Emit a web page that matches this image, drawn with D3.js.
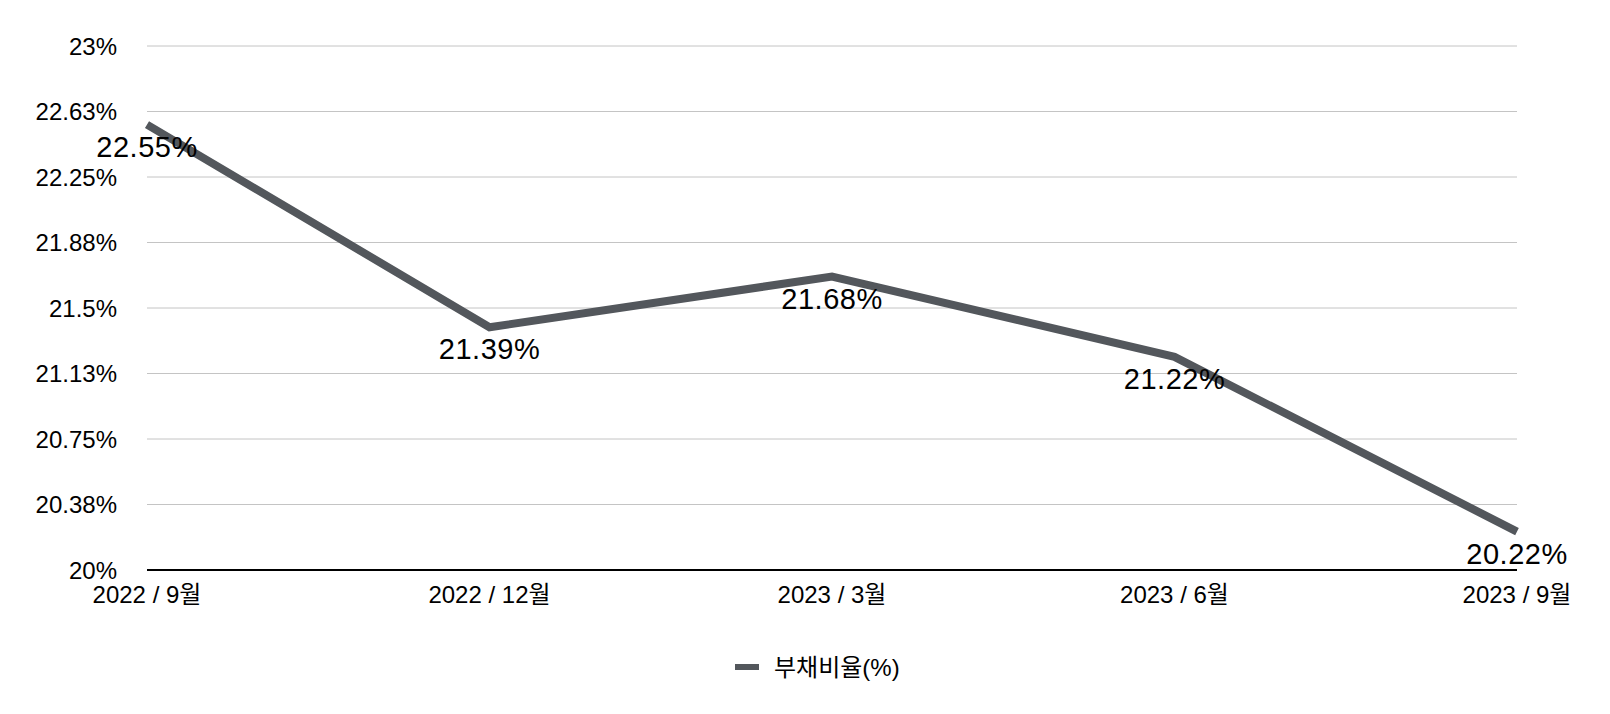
<!DOCTYPE html>
<html>
<head>
<meta charset="utf-8">
<script src="https://cdn.jsdelivr.net/npm/d3@7"></script>
<style>
  html, body { margin: 0; padding: 0; background: #fff; }
  svg { display: block; font-family: "Liberation Sans", Arial, "Noto Sans CJK KR", sans-serif; }
</style>
</head>
<body>
<svg id="chart" width="1610" height="714"></svg>
<script>
const categories = ["2022 / 9월", "2022 / 12월", "2023 / 3월", "2023 / 6월", "2023 / 9월"];
const values = [22.55, 21.39, 21.68, 21.22, 20.22];
const seriesName = "부채비율(%)";
const yTicks = [20, 20.375, 20.75, 21.125, 21.5, 21.875, 22.25, 22.625, 23];
const yTickLabels = ["20%", "20.38%", "20.75%", "21.13%", "21.5%", "21.88%", "22.25%", "22.63%", "23%"];

(function () {
const svg = d3.select("#chart");
const mLeft = 147, mRight = 1517, mTop = 46, mBottom = 570;
const lineColor = "#53575c";

const x = d3.scalePoint().domain(categories).range([mLeft, mRight]).padding(0);
const y = d3.scaleLinear().domain([20, 23]).range([mBottom, mTop]);

// grid lines
svg.append("g").selectAll("line").data(yTicks.slice(1)).join("line")
  .attr("x1", mLeft).attr("x2", mRight)
  .attr("y1", d => y(d)).attr("y2", d => y(d))
  .attr("stroke", "#c4c4c4").attr("stroke-width", 1);

// y labels
svg.append("g").selectAll("text").data(yTicks).join("text")
  .attr("x", 117).attr("y", d => y(d)).attr("dy", "0.36em")
  .attr("text-anchor", "end").attr("font-size", 24).attr("fill", "#000")
  .text((d, i) => yTickLabels[i]);

// baseline
svg.append("line").attr("x1", mLeft).attr("x2", mRight)
  .attr("y1", y(20)).attr("y2", y(20))
  .attr("stroke", "#000").attr("stroke-width", 2);

// x labels
svg.append("g").selectAll("text").data(categories).join("text")
  .attr("x", d => x(d)).attr("y", 603)
  .attr("text-anchor", "middle").attr("font-size", 24).attr("fill", "#000")
  .text(d => d);

// line
const line = d3.line().x((d, i) => x(categories[i])).y(d => y(d));
svg.append("path").datum(values)
  .attr("d", line).attr("fill", "none")
  .attr("stroke", lineColor).attr("stroke-width", 8)
  .attr("stroke-linejoin", "miter");

// data labels
svg.append("g").selectAll("text").data(values).join("text")
  .attr("x", (d, i) => x(categories[i])).attr("y", d => y(d) + 32)
  .attr("text-anchor", "middle").attr("font-size", 29).attr("letter-spacing", 0.5).attr("fill", "#000")
  .text(d => d.toFixed(2) + "%");

// legend
const lg = svg.append("g");
lg.append("line").attr("x1", 735).attr("x2", 759).attr("y1", 667).attr("y2", 667)
  .attr("stroke", lineColor).attr("stroke-width", 6);
lg.append("text").attr("x", 774).attr("y", 667).attr("dy", "0.36em")
  .attr("font-size", 24).attr("fill", "#000").text(seriesName);
})();
</script>
</body>
</html>
